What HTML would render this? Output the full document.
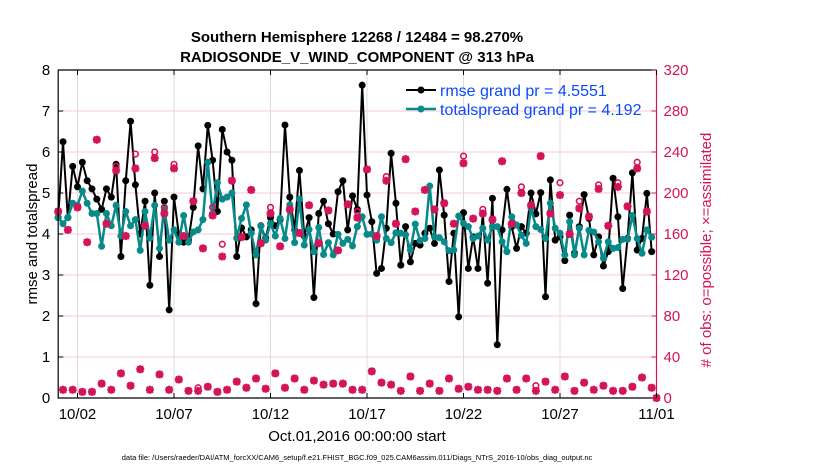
<!DOCTYPE html>
<html><head><meta charset="utf-8"><style>
html,body{margin:0;padding:0;background:#fff;}
svg{display:block;font-family:"Liberation Sans",Arial,sans-serif;}
</style></head><body>
<svg id="chart" width="830" height="470" viewBox="0 0 830 470">
<g id="grid"></g>
<g id="series"></g>
<g id="axes"></g>
<text x="357" y="42" text-anchor="middle" font-size="15" font-weight="bold">Southern Hemisphere 12268 / 12484 = 98.270%</text>
<text x="357" y="62" text-anchor="middle" font-size="15" font-weight="bold">RADIOSONDE_V_WIND_COMPONENT @ 313 hPa</text>
<text transform="translate(37,234) rotate(-90)" text-anchor="middle" font-size="15">rmse and totalspread</text>
<text transform="translate(711,250) rotate(-90)" text-anchor="middle" font-size="15" fill="#d4145a"># of obs: o=possible; ×=assimilated</text>
<text x="357" y="441" text-anchor="middle" font-size="15">Oct.01,2016 00:00:00 start</text>
<text x="357" y="460" text-anchor="middle" font-size="7.5">data file: /Users/raeder/DAI/ATM_forcXX/CAM6_setup/f.e21.FHIST_BGC.f09_025.CAM6assim.011/Diags_NTrS_2016-10/obs_diag_output.nc</text>
<g>
<g>
<line x1="406" y1="90" x2="436" y2="90" stroke="#000" stroke-width="2"/><circle cx="421" cy="90" r="3.5" fill="#000"/>
<text x="440" y="96" font-size="16" fill="#0a4bff">rmse grand pr = 4.5551</text></g>
<g>
<line x1="406" y1="109" x2="436" y2="109" stroke="#088a8a" stroke-width="2.5"/><circle cx="421" cy="109" r="3.5" fill="#088a8a"/>
<text x="440" y="115" font-size="16" fill="#0a4bff">totalspread grand pr = 4.192</text></g>
</g>
</svg>
<script>
const rmse=[4.4,6.25,4.4,5.65,5.15,5.75,5.3,5.1,4.85,4.6,5.1,4.9,5.7,3.45,5.3,6.75,5.2,4.0,4.8,2.75,5.0,3.45,4.8,2.15,4.9,4.0,3.8,3.85,4.65,6.15,5.1,6.65,5.8,4.55,6.55,6.0,5.8,3.45,
4.15,3.93,4.1,2.3,4.2,3.9,4.4,4.2,4.35,6.66,4.9,4.1,5.55,3.95,4.4,2.45,4.5,4.8,4.25,4.0,5.03,5.3,4.1,4.93,4.6,7.63,4.95,
4.30,3.04,3.16,4.14,5.97,4.75,3.24,4.18,3.32,3.77,3.73,4.02,4.14,3.77,5.56,4.46,2.84,4.02,1.98,4.52,3.16,3.93,3.16,4.5,2.8,4.87,
1.3,4.1,5.09,4.18,3.65,4.18,4.02,5.0,4.49,5.01,2.47,5.32,3.85,3.93,3.35,4.46,3.53,4.18,4.96,4.38,3.49,3.93,3.22,3.57,5.36,
4.42,2.67,3.89,5.49,3.61,3.89,4.99,3.57];
const spread=[4.4,4.25,4.4,4.75,4.7,5.05,4.75,4.5,4.5,3.7,4.5,4.2,4.7,3.95,4.55,4.2,4.35,3.6,4.55,3.9,4.7,3.65,4.6,3.85,4.1,3.8,4.45,3.8,4.05,4.1,4.35,5.75,4.5,5.25,4.85,4.9,5.0,3.9,
4.38,4.71,4.02,3.49,4.19,3.85,4.26,3.95,4.38,3.89,4.71,3.79,4.85,3.73,4.11,3.57,4.16,3.5,3.79,3.49,3.99,3.77,3.87,3.71,4.18,4.42,3.99,
4.0,3.85,4.42,3.89,3.79,4.03,4.02,3.98,3.61,4.24,3.84,3.89,5.17,3.93,3.91,3.81,3.59,3.61,4.44,4.26,4.18,3.89,3.95,4.14,3.85,4.18,
4.18,3.81,3.57,4.42,4.22,3.97,3.77,4.63,4.18,4.11,3.89,4.75,4.14,4.02,3.49,4.3,3.49,4.14,3.49,4.09,4.05,3.81,3.41,3.81,3.65,
3.67,3.87,3.87,4.45,3.89,3.53,4.1,3.92];
const nAssim=[182,8,164,8,186,6,152,6,252,14,170,8,222,24,158,12,224,28,168,8,234,23,180,8,224,18,158,7,192,7,146,11,178,6,138,8,212,16,
157,10,203,19,151,9,180,24,148,10,184,19,161,8,188,17,151,13,183,14,144,14,189,8,176,8,223,
26,158,15,212,13,170,7,233,21,182,7,203,14,184,7,190,19,170,9,229,11,175,8,180,8,174,
7,231,19,170,8,200,19,188,7,236,16,180,8,198,21,160,7,185,15,177,8,204,12,168,7,
206,7,187,11,224,20,182,10,0];
const nPoss=[182,8,164,8,186,6,152,6,252,14,170,8,226,24,158,12,238,28,168,8,240,23,186,8,228,18,158,7,192,10,146,11,186,6,150,8,212,16,
157,10,203,19,151,9,186,24,148,10,184,19,161,8,188,17,151,13,183,14,144,14,189,8,182,8,223,
26,158,15,216,13,170,7,233,21,182,7,203,14,184,7,190,19,170,9,236,11,175,8,184,8,174,
7,231,19,170,8,206,19,188,12,236,16,180,8,210,21,160,7,192,15,177,8,208,12,168,7,
210,7,187,11,230,20,182,10,0];
const leftTicks=[0,1,2,3,4,5,6,7,8];
const rightTicks=[0,40,80,120,160,200,240,280,320];
const dateTicks=[1,6,11,16,21,26,31];
const dateLabels=["10/02","10/07","10/12","10/17","10/22","10/27","11/01"];
const stepDays=0.25;

const X0=58.2,X1=656.5,Y0=398,Y1=70,DAYS=31;
const RED="#d4145a",TEAL="#088a8a";
const xs=t=>X0+(X1-X0)*t/DAYS;
const yl=v=>Y0-(Y0-Y1)*v/8;
const yr=c=>Y0-(Y0-Y1)*c/320;
const NS="http://www.w3.org/2000/svg";
function mk(parent,tag,attrs){const e=document.createElementNS(NS,tag);for(const k in attrs)e.setAttribute(k,attrs[k]);parent.appendChild(e);return e;}
const grid=document.getElementById('grid'),ser=document.getElementById('series'),axes=document.getElementById('axes');

leftTicks.forEach(v=>{
  const g=mk(grid,'line',{x1:X0,x2:X1,y1:yl(v),y2:yl(v),stroke:'#f3cbd9','stroke-width':1});
  
  
});
dateTicks.forEach(d=>{
  const g=mk(grid,'line',{x1:xs(d),x2:xs(d),y1:Y1,y2:Y0,stroke:'#dcdcdc','stroke-width':1});
  
  
});

function drawObs(){
  nPoss.forEach((c,i)=>{
    const x=xs(i*stepDays),y=yr(c);
    const o=mk(ser,'circle',{cx:x,cy:y,r:2.8,fill:'none',stroke:RED,'stroke-width':1.6});
    
    
  });
  nAssim.forEach((c,i)=>{
    const x=xs(i*stepDays),y=yr(c);
    const g=mk(ser,'g',{});
    
    
    const s=4;
    mk(g,'path',{d:`M${x-s},${y}H${x+s}M${x},${y-s}V${y+s}M${x-3},${y-3}L${x+3},${y+3}M${x-3},${y+3}L${x+3},${y-3}`,stroke:RED,'stroke-width':2.4});
  });
}
function drawLine(vals,color,w,name){
  const d=vals.map((v,i)=>(i?'L':'M')+xs(i*stepDays).toFixed(1)+','+yl(v).toFixed(1)).join('');
  const p=mk(ser,'path',{d:d,fill:'none',stroke:color,'stroke-width':w,'stroke-linejoin':'round'});
  
  
  vals.forEach((v,i)=>{
    const c=mk(ser,'circle',{cx:xs(i*stepDays),cy:yl(v),r:3.5,fill:color});
    
    
  });
}
drawLine(rmse,'#000',2,'rmse');
drawLine(spread,TEAL,2.5,'totalspread');
drawObs();

const ax=mk(axes,'path',{d:`M${X1},${Y1}H${X0}V${Y0}H${X1}`,fill:'none',stroke:'#000','stroke-width':1.2});


const rax=mk(axes,'line',{x1:X1,x2:X1,y1:Y1,y2:Y0,stroke:RED,'stroke-width':1.2});


leftTicks.forEach(v=>{
  mk(axes,'line',{x1:X0,x2:X0+5,y1:yl(v),y2:yl(v),stroke:'#000'});
  const t=mk(axes,'text',{x:X0-8,y:yl(v)+5,'text-anchor':'end','font-size':15});
  t.textContent=v;
  
  
});
rightTicks.forEach(c=>{
  mk(axes,'line',{x1:X1-5,x2:X1,y1:yr(c),y2:yr(c),stroke:RED});
  const t=mk(axes,'text',{x:X1+7,y:yr(c)+5,'font-size':15,fill:RED});
  t.textContent=c;
  
  
});
dateTicks.forEach((d,i)=>{
  mk(axes,'line',{x1:xs(d),x2:xs(d),y1:Y0,y2:Y0-5,stroke:'#000'});
  mk(axes,'line',{x1:xs(d),x2:xs(d),y1:Y1,y2:Y1+5,stroke:'#000'});
  const t=mk(axes,'text',{x:xs(d),y:419,'text-anchor':'middle','font-size':15});
  t.textContent=dateLabels[i];
  
  
});
</script>
</body></html>
